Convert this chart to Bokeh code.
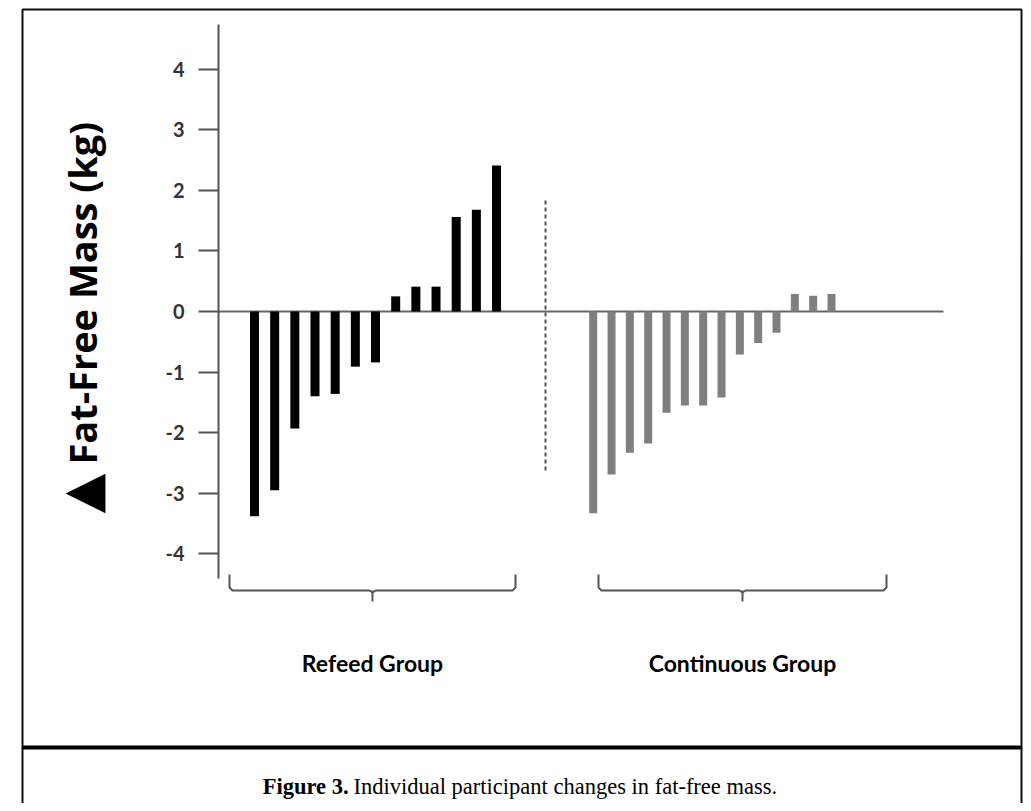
import math
from bokeh.plotting import figure
from bokeh.models import Range1d, LinearAxis, FixedTicker, Label, PrintfTickFormatter
from bokeh.core.properties import value
from bokeh.embed import file_html
from bokeh.resources import INLINE

# ---- data (kg change per participant) ----
refeed_change = [-3.38, -2.95, -1.93, -1.40, -1.36, -0.91, -0.84, 0.25, 0.41, 0.41, 1.56, 1.68, 2.41]
continuous_change = [-3.33, -2.69, -2.33, -2.18, -1.67, -1.55, -1.55, -1.42, -0.71, -0.52, -0.35, 0.29, 0.26, 0.29]
group_labels = ["Refeed Group", "Continuous Group"]
y_ticks = [-4, -3, -2, -1, 0, 1, 2, 3, 4]
y_label_symbol = "▲"
y_label = "Fat-Free Mass (kg)"
caption_bold = "Figure 3."
caption_text = "Individual participant changes in fat-free mass."

# ---- layout helpers (canvas pixel -> data) ----
W, H = 1023, 803
ZERO_PY = 311.0
PX_PER_KG = 60.6


def ky(py):
    return (ZERO_PY - py) / PX_PER_KG


p = figure(width=W, height=H,
           x_range=Range1d(0, W),
           y_range=Range1d(ky(H), ky(0)),
           output_backend="svg", toolbar_location=None,
           x_axis_type=None, y_axis_type=None,
           min_border=0, outline_line_color=None,
           background_fill_color="white", border_fill_color="white")

# outer frame of the figure panel
p.line([22, 22, 1021, 1021], [ky(840), ky(9), ky(9), ky(840)],
       line_color="#111111", line_width=2)
# thick separator
p.line([22, 1021], [ky(747), ky(747)], line_color="black", line_width=4)

# zero line
p.line([218, 943], [0, 0], line_color="#666666", line_width=2)

# bars
rx = [254 + i * 20.17 for i in range(len(refeed_change))]
cx = [592.7 + i * 18.33 for i in range(len(continuous_change))]
p.vbar(x=rx, bottom=0, top=refeed_change, width=9, fill_color="black", line_color=None)
p.vbar(x=cx, bottom=0, top=continuous_change, width=8, fill_color="#7f7f7f", line_color=None)

# dashed divider
p.line([545, 545], [ky(200), ky(472)], line_color="#555555", line_width=2, line_dash="4 3")

# brackets
for (x0, x1) in [(229, 515), (598, 886)]:
    xc = (x0 + x1) / 2
    p.line([x0, x0, x0 + 3, xc - 3, xc, xc + 3, x1 - 3, x1, x1],
           [ky(574), ky(587), ky(590), ky(590), ky(592), ky(590), ky(590), ky(587), ky(574)],
           line_color="#555555", line_width=2, line_join="round")
    p.line([xc, xc], [ky(590), ky(601)], line_color="#555555", line_width=2)

# group labels
p.text(x=[372, 742], y=[ky(662), ky(662)], text=group_labels,
       text_align="center", text_baseline="middle",
       text_font=value("Lato"), text_font_style="bold", text_font_size="23px",
       text_color="black")

# y axis
ax = LinearAxis(fixed_location=218, bounds=(ky(578), ky(24)),
                ticker=FixedTicker(ticks=y_ticks, minor_ticks=[]),
                formatter=PrintfTickFormatter(format="%d"))
ax.axis_line_color = "#555555"
ax.axis_line_width = 2
ax.major_tick_line_color = "#555555"
ax.major_tick_line_width = 2
ax.major_tick_out = 20
ax.major_tick_in = 0
ax.minor_tick_out = 0
ax.minor_tick_in = 0
ax.major_label_text_font = "Lato"
ax.major_label_text_font_style = "bold"
ax.major_label_text_font_size = "20px"
ax.major_label_text_color = "#333333"
ax.major_label_standoff = 14
p.add_layout(ax, "left")

# y label (rotated)
p.text(x=[81], y=[ky(464)], text=[y_label], angle=math.pi / 2,
       text_align="left", text_baseline="middle",
       text_font=value("Open Sans"), text_font_style="bold", text_font_size="38px",
       text_color="black")
p.text(x=[80], y=[ky(493)], text=[y_label_symbol], angle=math.pi / 2,
       text_align="center", text_baseline="middle",
       text_font=value("DejaVu Sans"), text_font_size="52px", text_color="black")

# caption
p.add_layout(Label(x=348, y=ky(786), text=caption_bold, text_align="right",
                   text_baseline="middle", text_font="Liberation Serif",
                   text_font_style="bold", text_font_size="22.5px", text_color="black"))
p.add_layout(Label(x=353, y=ky(786), text=caption_text, text_align="left",
                   text_baseline="middle", text_font="Liberation Serif",
                   text_font_size="22.5px", text_color="black"))

open("out.html", "w").write(file_html(p, INLINE))
